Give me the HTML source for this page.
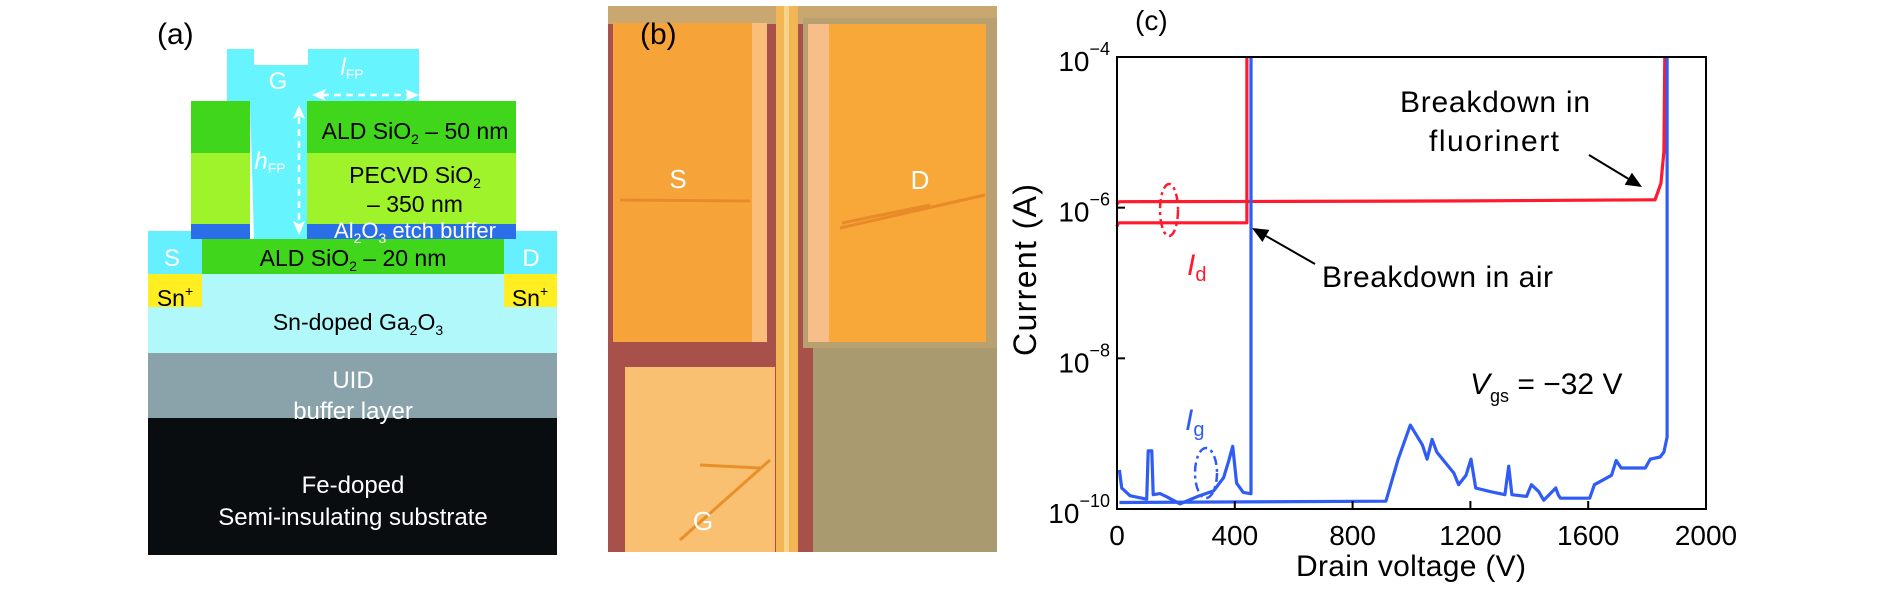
<!DOCTYPE html>
<html><head><meta charset="utf-8"><style>
html,body{margin:0;padding:0;background:#fff;}
svg{display:block;font-family:"Liberation Sans",sans-serif;}
</style></head><body>
<svg id="fig" width="1890" height="593" viewBox="0 0 1890 593">
<!-- Panel (a) -->
<g>
<text x="157" y="44" font-size="30">(a)</text>
<rect x="148" y="418" width="409" height="137" fill="#0a0d10"/>
<rect x="148" y="353" width="409" height="65" fill="#8aa3ab"/>
<rect x="148" y="274" width="409" height="79" fill="#b0f8fa"/>
<rect x="148" y="274" width="54" height="33" fill="#ffee22"/>
<rect x="504" y="274" width="53" height="33" fill="#ffee22"/>
<rect x="148" y="231" width="54" height="43" fill="#66f0ff"/>
<rect x="504" y="231" width="53" height="43" fill="#66f0ff"/>
<rect x="202" y="239" width="302" height="35" fill="#40d61c"/>
<rect x="191" y="101" width="59" height="52" fill="#40d61c"/>
<rect x="191" y="153" width="59" height="71" fill="#9ef32a"/>
<rect x="191" y="224" width="59" height="15" fill="#2a6fe8"/>
<rect x="306" y="101" width="210" height="52" fill="#40d61c"/>
<rect x="306" y="153" width="210" height="71" fill="#9ef32a"/>
<rect x="306" y="224" width="210" height="15" fill="#2a6fe8"/>
<path d="M227 49 H254 V65 H308 V49 H419 V101 H307 V239 H254 L250 101 H227 Z" fill="#66f5ff"/>
<g fill="#fff" font-size="24" text-anchor="middle">
<text x="278" y="89">G</text>
<text x="172" y="266">S</text>
<text x="531" y="266">D</text>
<text x="415" y="238" font-size="22">Al<tspan font-size="14" dy="5">2</tspan><tspan dy="-5">O</tspan><tspan font-size="14" dy="5">3</tspan><tspan dy="-5"> etch buffer</tspan></text>
<text x="353" y="388">UID</text>
<text x="353" y="419">buffer layer</text>
<text x="353" y="493">Fe-doped</text>
<text x="353" y="525">Semi-insulating substrate</text>
<text x="352" y="75" font-style="italic">l<tspan font-size="14" font-style="normal" dy="4">FP</tspan></text>
<text x="270" y="169" font-style="italic">h<tspan font-size="14" font-style="normal" dy="4">FP</tspan></text>
</g>
<g fill="#000" font-size="23" text-anchor="middle">
<text x="415" y="139">ALD SiO<tspan font-size="14" dy="5">2</tspan><tspan dy="-5"> – 50 nm</tspan></text>
<text x="415" y="183">PECVD SiO<tspan font-size="14" dy="5">2</tspan></text>
<text x="415" y="212">– 350 nm</text>
<text x="353" y="266">ALD SiO<tspan font-size="14" dy="5">2</tspan><tspan dy="-5"> – 20 nm</tspan></text>
<text x="358" y="330">Sn-doped Ga<tspan font-size="14" dy="5">2</tspan><tspan dy="-5">O</tspan><tspan font-size="14" dy="5">3</tspan></text>
<text x="175" y="306">Sn<tspan font-size="14" dy="-10">+</tspan></text>
<text x="530" y="306">Sn<tspan font-size="14" dy="-10">+</tspan></text>
</g>
<g stroke="#fff" stroke-width="2.5" fill="#fff">
<line x1="322" y1="95" x2="408" y2="95" stroke-dasharray="7 5"/>
<path d="M312 95 L326 89 L323 95 L326 101 Z" stroke="none"/><path d="M419 95 L405 89 L408 95 L405 101 Z" stroke="none"/>
<line x1="299" y1="117" x2="299" y2="223" stroke-dasharray="7 5"/>
<path d="M299 105 L293 119 L299 116 L305 119 Z" stroke="none"/><path d="M299 235 L293 221 L299 224 L305 221 Z" stroke="none"/>
</g>
</g>
<!-- Panel (b) -->
<g>
<rect x="608" y="6" width="389" height="546" fill="#a8514a"/>
<rect x="608" y="6" width="389" height="18" fill="#c8a870"/>
<rect x="813" y="348" width="184" height="204" fill="#aa9a70"/>
<rect x="803" y="18" width="194" height="330" fill="#b8a070"/>
<rect x="613" y="23" width="154" height="319" fill="#f6a43a"/>
<rect x="752" y="23" width="15" height="319" fill="#f8be7a"/>
<rect x="625" y="367" width="150" height="185" fill="#f8c070"/>
<rect x="776" y="6" width="22" height="546" fill="#f3b655"/>
<rect x="784" y="6" width="5" height="546" fill="#f8d48a"/>
<rect x="808" y="24" width="178" height="318" fill="#f8a838"/>
<rect x="808" y="24" width="21" height="318" fill="#f8be8a"/>
<path d="M620 200 L750 201" stroke="#e88a2a" stroke-width="3"/>
<path d="M840 228 L985 195 M842 223 L930 205" stroke="#e88a2a" stroke-width="3"/>
<path d="M680 540 L770 460 M700 465 L760 468" stroke="#e8902a" stroke-width="3"/>
<text x="640" y="44" font-size="30" fill="#000">(b)</text>
<g fill="#fff" font-size="26" text-anchor="middle">
<text x="678" y="188">S</text>
<text x="920" y="189">D</text>
<text x="703" y="530">G</text>
</g>
</g>
<!-- Panel (c) -->
<g id="chart"></g>
</svg>
<script>
const xTicks = [0, 400, 800, 1200, 1600, 2000];
const yTickExps = [-4, -6, -8, -10];
const idAirV = [0, 3, 10, 441, 441];
const idAirI = [5.6e-7, 6.2e-7, 6.3e-7, 6.3e-7, 1e-4];
const idFluorV = [0, 3, 10, 600, 1200, 1827, 1847, 1857, 1860];
const idFluorI = [1.1e-6, 1.18e-6, 1.2e-6, 1.21e-6, 1.23e-6, 1.27e-6, 2.1e-6, 5.5e-6, 1e-4];
const igAirV = [8, 16, 44, 101, 106, 118, 123, 146, 169, 214, 271, 328, 362, 379, 393, 406, 429, 452, 455, 455];
const igAirI = [3.3e-10, 1.9e-10, 1.5e-10, 1.35e-10, 5.9e-10, 5.9e-10, 1.55e-10, 1.6e-10, 1.45e-10, 1.17e-10, 1.45e-10, 1.74e-10, 2.6e-10, 4.3e-10, 6.8e-10, 2.2e-10, 1.66e-10, 1.6e-10, 1.6e-10, 1e-4];
const igFluorV = [8, 913, 955, 996, 1037, 1053, 1070, 1086, 1144, 1160, 1185, 1202, 1218, 1267, 1317, 1330, 1341, 1391, 1407, 1432, 1449, 1490, 1498, 1506, 1605, 1621, 1679, 1695, 1712, 1794, 1811, 1844, 1857, 1868, 1868];
const igFluorI = [1.22e-10, 1.27e-10, 4.6e-10, 1.3e-9, 7.1e-10, 4.6e-10, 8.4e-10, 5.7e-10, 3.0e-10, 2.1e-10, 2.8e-10, 4.6e-10, 1.9e-10, 1.7e-10, 1.55e-10, 3.7e-10, 1.55e-10, 1.47e-10, 2.1e-10, 1.7e-10, 1.31e-10, 1.9e-10, 1.55e-10, 1.39e-10, 1.39e-10, 2.1e-10, 2.8e-10, 4.4e-10, 3.5e-10, 3.5e-10, 4.6e-10, 4.9e-10, 5.7e-10, 9e-10, 1e-4];

const NS = 'http://www.w3.org/2000/svg';
const L = 1117, R = 1706, T = 57, B = 509;
const xS = v => L + (v - 0) / 2000 * (R - L);
const yS = i => T + (-4 - Math.log10(i)) / 6 * (B - T);
const g = document.getElementById('chart');
function mk(tag, attrs, parent) {
  const e = document.createElementNS(NS, tag);
  for (const k in attrs) e.setAttribute(k, attrs[k]);
  (parent || g).appendChild(e);
  return e;
}
function series(vs, is, color, name) {
  const d = vs.map((v, k) => (k ? 'L' : 'M') + xS(v).toFixed(1) + ' ' + Math.max(T, yS(is[k])).toFixed(1)).join(' ');
  const p = mk('path', {d: d, fill: 'none', stroke: color, 'stroke-width': 3.2, 'stroke-linejoin': 'round'});
  
  
}
series(idFluorV, idFluorI, '#ff1a2e', 'id-fluorinert-line');
series(igFluorV, igFluorI, '#2f5cf5', 'ig-fluorinert-line');
series(idAirV, idAirI, '#ff1a2e', 'id-air-line');
series(igAirV, igAirI, '#2f5cf5', 'ig-air-line');

const frame = mk('rect', {x: L, y: T, width: R - L, height: B - T, fill: 'none', stroke: '#000', 'stroke-width': 2});


xTicks.forEach(v => {
  const x = xS(v);
  mk('line', {x1: x, y1: B, x2: x, y2: B - 8, stroke: '#000', 'stroke-width': 2});
  const t = mk('text', {x: x, y: 545, 'font-size': 28, 'text-anchor': 'middle'});
  t.textContent = v;
  
  
});
yTickExps.forEach(e => {
  const y = yS(Math.pow(10, e));
  mk('line', {x1: L, y1: y, x2: L + 8, y2: y, stroke: '#000', 'stroke-width': 2});
  const t = mk('text', {x: 1110, y: y + 14, 'font-size': 28, 'text-anchor': 'end'});
  t.innerHTML = '10<tspan font-size="18" dy="-16">\u2212' + (-e) + '</tspan>';
  
  
});
function label(x, y, txt, opts, name) {
  const t = mk('text', Object.assign({x: x, y: y, 'font-size': 30}, opts || {}));
  t.innerHTML = txt;
  
  
  return t;
}
label(1135, 30, '(c)', {'font-size': 28}, 'panel-c-label');
label(1411, 576, 'Drain voltage (V)', {'text-anchor': 'middle', textLength: 230}, 'x-axis-title');
label(1036, 270, 'Current (A)', {'text-anchor': 'middle', transform: 'rotate(-90 1036 270)', 'font-size': 32, textLength: 172}, 'y-axis-title');
label(1322, 287, 'Breakdown in air', {textLength: 231}, 'breakdown-air-annotation');
label(1400, 112, 'Breakdown in', {textLength: 190}, 'breakdown-fluorinert-annotation');
label(1494, 151, 'fluorinert', {'text-anchor': 'middle', textLength: 130}, 'fluorinert-annotation');
label(1470, 394, '<tspan font-style="italic">V</tspan><tspan font-size="18" dy="8">gs</tspan><tspan dy="-8"> = \u221232 V</tspan>', {}, 'vgs-annotation');
label(1187, 275, '<tspan font-style="italic">I</tspan><tspan font-size="20" dy="6">d</tspan>', {fill: '#ff1a2e'}, 'id-label');
label(1185, 430, '<tspan font-style="italic">I</tspan><tspan font-size="20" dy="6">g</tspan>', {fill: '#2f5cf5'}, 'ig-label');
const e1 = mk('ellipse', {cx: 1169, cy: 210, rx: 9, ry: 26, fill: 'none', stroke: '#ff1a2e', 'stroke-width': 2.5, 'stroke-dasharray': '9 4 3 4'});


const e2 = mk('ellipse', {cx: 1206, cy: 473, rx: 11, ry: 25, fill: 'none', stroke: '#2f5cf5', 'stroke-width': 2.5, 'stroke-dasharray': '9 4 3 4'});


function arrow(x1, y1, x2, y2, name) {
  const a = Math.atan2(y2 - y1, x2 - x1), h = 16, w = 7;
  const bx = x2 - h * Math.cos(a), by = y2 - h * Math.sin(a);
  const l = mk('line', {x1: x1, y1: y1, x2: bx, y2: by, stroke: '#000', 'stroke-width': 2});
  
  
  mk('path', {d: `M${x2} ${y2} L${bx - w * Math.sin(a)} ${by + w * Math.cos(a)} L${bx + w * Math.sin(a)} ${by - w * Math.cos(a)} Z`, fill: '#000'});
}
arrow(1315, 264, 1252, 228, 'air-arrow');
arrow(1589, 155, 1642, 187, 'fluorinert-arrow');
</script>
</body></html>
